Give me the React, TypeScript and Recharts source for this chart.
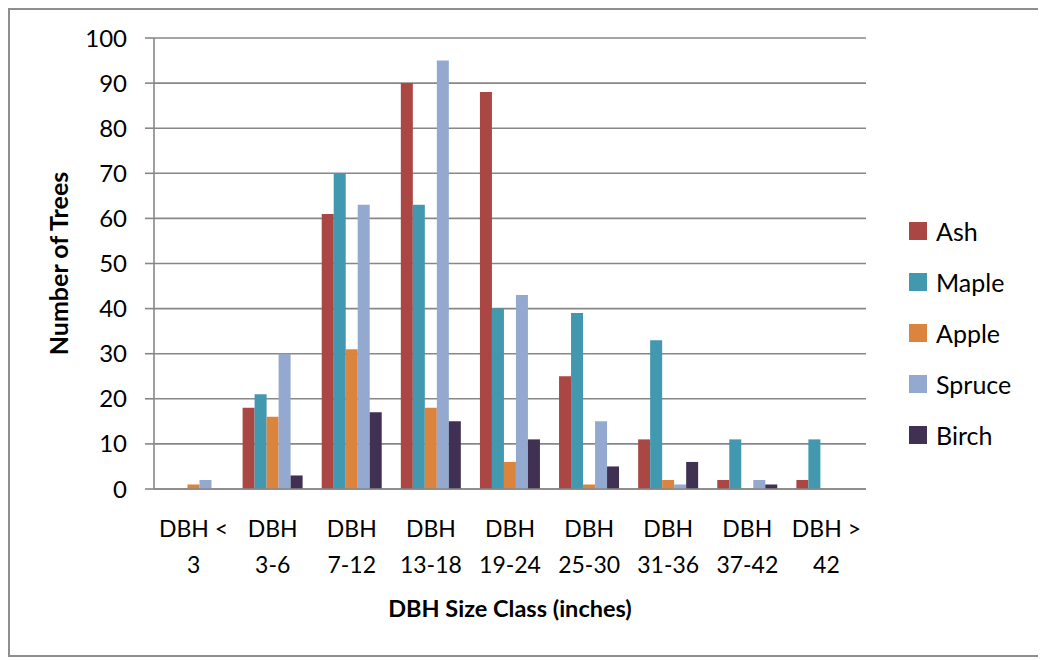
import { Bar, BarChart, CartesianGrid, Label, XAxis, YAxis } from "recharts";

const categories = [
  "DBH < 3",
  "DBH 3-6",
  "DBH 7-12",
  "DBH 13-18",
  "DBH 19-24",
  "DBH 25-30",
  "DBH 31-36",
  "DBH 37-42",
  "DBH > 42",
];
const ash = [0, 18, 61, 90, 88, 25, 11, 2, 2];
const maple = [0, 21, 70, 63, 40, 39, 33, 11, 11];
const apple = [1, 16, 31, 18, 6, 1, 2, 0, 0];
const spruce = [2, 30, 63, 95, 43, 15, 1, 2, 0];
const birch = [0, 3, 17, 15, 11, 5, 6, 1, 0];
const yTicks = [0, 10, 20, 30, 40, 50, 60, 70, 80, 90, 100];
const edgeTicks = [0, 1, 2, 3, 4, 5, 6, 7, 8, 9];

const SERIES = [
  { key: "Ash", color: "#AA4643" },
  { key: "Maple", color: "#4198AF" },
  { key: "Apple", color: "#DB843D" },
  { key: "Spruce", color: "#93A9CF" },
  { key: "Birch", color: "#403152" },
];

const GRID = "#878787";
const FONT = "Lato, 'Noto Sans', sans-serif";

const rows = categories.map((c, i) => ({
  name: c,
  Ash: ash[i],
  Maple: maple[i],
  Apple: apple[i],
  Spruce: spruce[i],
  Birch: birch[i],
}));

function CategoryTick(props: any) {
  const { x, y, payload } = props;
  const label: string = payload.value;
  const cut = label.lastIndexOf(" ");
  const first = label.slice(0, cut);
  const second = label.slice(cut + 1);
  return (
    <g>
      <text x={x} y={y + 48} textAnchor="middle" fontSize={23} fill="#000" fontFamily={FONT}>
        {first}
      </text>
      <text x={x} y={y + 84} textAnchor="middle" fontSize={23} fill="#000" fontFamily={FONT}>
        {second}
      </text>
    </g>
  );
}

function LegendBox() {
  return (
    <div style={{ position: "absolute", left: 899, top: 195, width: 130, fontFamily: FONT }}>
      {SERIES.map((s) => (
        <div
          key={s.key}
          style={{ height: 51, display: "flex", alignItems: "center", fontSize: 25, color: "#000" }}
        >
          <span style={{ width: 18, height: 18, background: s.color, marginRight: 9, display: "inline-block" }} />
          {s.key}
        </div>
      ))}
    </div>
  );
}

export default function App() {
  return (
    <div
      style={{
        position: "relative",
        width: 1029,
        height: 645,
        border: "2px solid #8e8e8e",
        background: "#fff",
      }}
    >
      <BarChart
        width={1029}
        height={645}
        data={rows}
        margin={{ top: 28, right: 173, left: 0, bottom: 0 }}
        barCategoryGap="12%"
        barGap={0}
      >
        <CartesianGrid vertical={false} stroke={GRID} strokeWidth={1.6} />
        <XAxis
          xAxisId="edges"
          type="number"
          domain={[0, 9]}
          ticks={edgeTicks}
          allowDataOverflow
          tick={false}
          tickSize={8}
          tickLine={{ stroke: GRID, strokeWidth: 1.6 }}
          axisLine={false}
          height={0}
        />
        <XAxis
          dataKey="name"
          height={166}
          interval={0}
          tickLine={false}
          tickSize={0}
          tickMargin={0}
          axisLine={{ stroke: GRID, strokeWidth: 1.6 }}
          tick={<CategoryTick />}
        >
          <Label
            content={(p: any) => {
              const vb = p.viewBox;
              return (
                <text
                  x={vb.x + vb.width / 2}
                  y={vb.y + 128}
                  textAnchor="middle"
                  fontSize={23.5}
                  fontWeight="bold"
                  fill="#000"
                  fontFamily={FONT}
                >
                  DBH Size Class (inches)
                </text>
              );
            }}
          />
        </XAxis>
        <YAxis
          width={144}
          domain={[0, 100]}
          ticks={yTicks}
          interval={0}
          tickSize={9}
          tickMargin={18}
          axisLine={{ stroke: GRID, strokeWidth: 1.6 }}
          tickLine={{ stroke: GRID, strokeWidth: 1.6 }}
          tick={{ fontSize: 24, fill: "#000", fontFamily: FONT }}
        >
          <Label
            content={(p: any) => {
              const vb = p.viewBox;
              const cx = vb.x + 48;
              const cy = vb.y + vb.height / 2;
              return (
                <text
                  x={cx}
                  y={cy}
                  transform={`rotate(-90 ${cx} ${cy})`}
                  textAnchor="middle"
                  dominantBaseline="central"
                  fontSize={25}
                  fontWeight="bold"
                  fill="#000"
                  fontFamily={FONT}
                >
                  Number of Trees
                </text>
              );
            }}
          />
        </YAxis>
        {SERIES.map((s) => (
          <Bar key={s.key} dataKey={s.key} fill={s.color} isAnimationActive={false} />
        ))}
      </BarChart>
      <LegendBox />
    </div>
  );
}
